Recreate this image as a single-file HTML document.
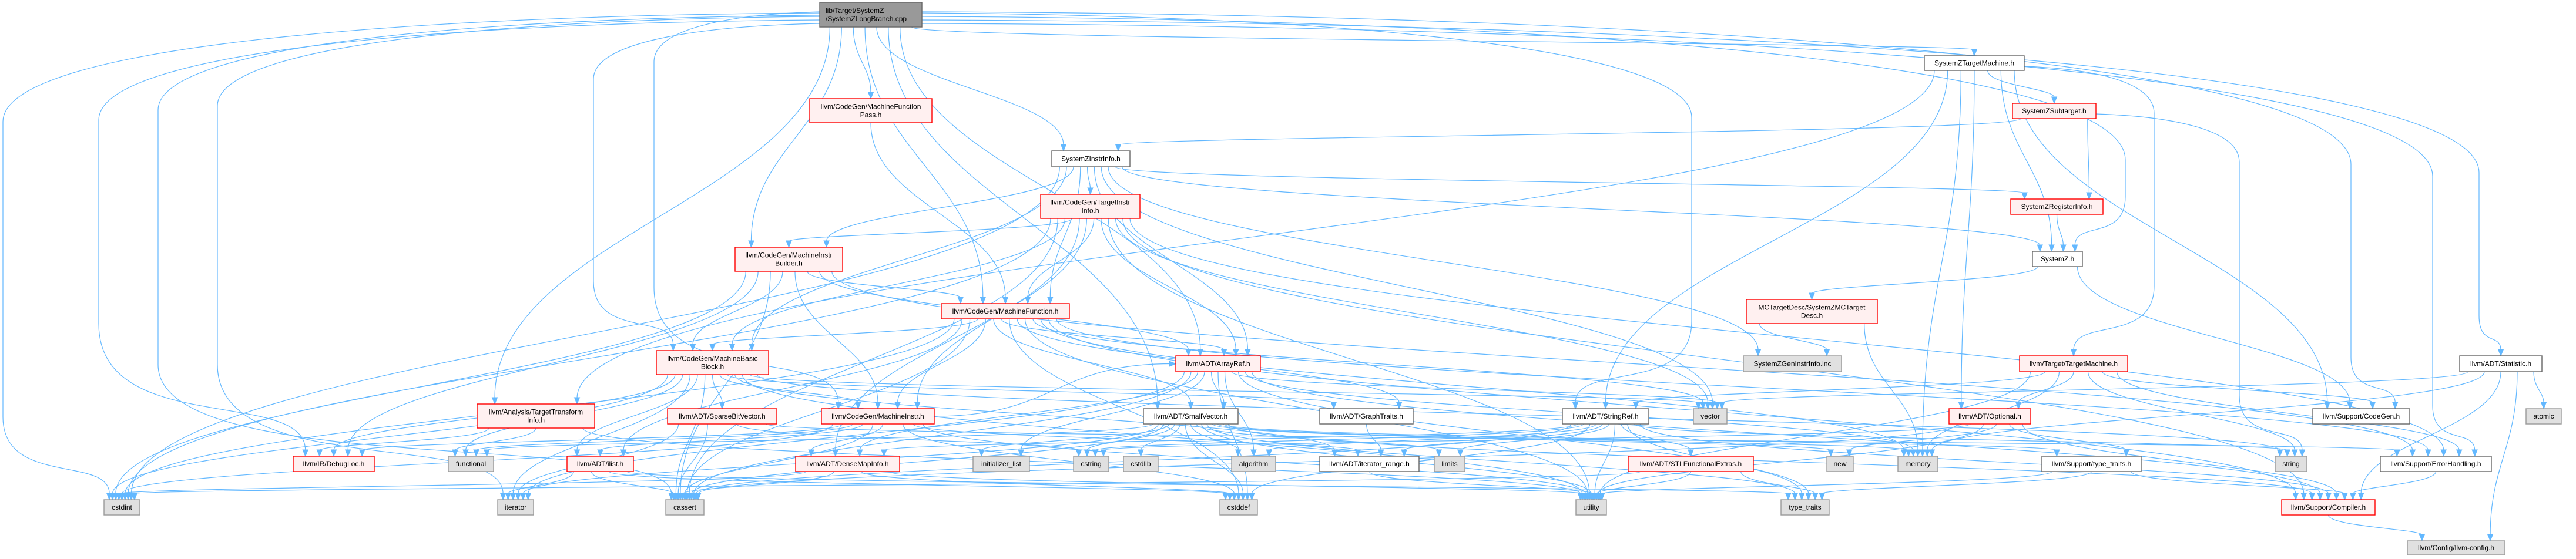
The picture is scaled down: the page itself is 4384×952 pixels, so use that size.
<!DOCTYPE html>
<html><head><meta charset="utf-8"><title>SystemZLongBranch.cpp include graph</title>
<style>
html,body{margin:0;padding:0;background:#fff;}
svg{display:block;}
text{font-family:"Liberation Sans",Arial,sans-serif;font-size:12px;fill:#000;}
</style></head>
<body>
<svg id="g" width="4384" height="952" viewBox="0 0 4384 952" xmlns="http://www.w3.org/2000/svg">
<g id="edges"></g>
<g id="nodes"></g>
</svg>
<script>
const nodeIds = ["main","mfpass","sztm","subtarget","instrinfo","reginfo","tii","mib","systemzh","mf","mctd","mbb","arrayref","geninstr","tm","statistic","tti","sbv","mi","smallvec","graphtraits","stringref","vector","optional","codegen","atomic","debugloc","functional","ilist","densemap","initlist","cstring","cstdlib","algorithm","iterrange","limits","stlfe","newh","memory","typetraitsh","string","errh","cstdint","iterator","cassert","cstddef","utility","typetraits","compiler","llvmconfig"];
const nodeLabels = [["lib/Target/SystemZ","/SystemZLongBranch.cpp"],["llvm/CodeGen/MachineFunction","Pass.h"],["SystemZTargetMachine.h"],["SystemZSubtarget.h"],["SystemZInstrInfo.h"],["SystemZRegisterInfo.h"],["llvm/CodeGen/TargetInstr","Info.h"],["llvm/CodeGen/MachineInstr","Builder.h"],["SystemZ.h"],["llvm/CodeGen/MachineFunction.h"],["MCTargetDesc/SystemZMCTarget","Desc.h"],["llvm/CodeGen/MachineBasic","Block.h"],["llvm/ADT/ArrayRef.h"],["SystemZGenInstrInfo.inc"],["llvm/Target/TargetMachine.h"],["llvm/ADT/Statistic.h"],["llvm/Analysis/TargetTransform","Info.h"],["llvm/ADT/SparseBitVector.h"],["llvm/CodeGen/MachineInstr.h"],["llvm/ADT/SmallVector.h"],["llvm/ADT/GraphTraits.h"],["llvm/ADT/StringRef.h"],["vector"],["llvm/ADT/Optional.h"],["llvm/Support/CodeGen.h"],["atomic"],["llvm/IR/DebugLoc.h"],["functional"],["llvm/ADT/ilist.h"],["llvm/ADT/DenseMapInfo.h"],["initializer_list"],["cstring"],["cstdlib"],["algorithm"],["llvm/ADT/iterator_range.h"],["limits"],["llvm/ADT/STLFunctionalExtras.h"],["new"],["memory"],["llvm/Support/type_traits.h"],["string"],["llvm/Support/ErrorHandling.h"],["cstdint"],["iterator"],["cassert"],["cstddef"],["utility"],["type_traits"],["llvm/Support/Compiler.h"],["llvm/Config/llvm-config.h"]];
const nodeBoxes = [[1395,4,1569,46],[1378,168,1586,209],[3275,95,3445,120],[3425,176,3567,202],[1790,257,1923,284],[3422,339,3579,365],[1771,331,1940,372],[1251,421,1434,462],[3459,428,3544,454],[1602,517,1820,543],[2972,510,3195,551],[1117,597,1308,638],[2001,606,2145,633],[2967,606,3134,633],[3437,606,3621,633],[4186,606,4326,633],[812,688,1012,729],[1136,696,1322,722],[1398,696,1590,722],[1946,696,2107,722],[2246,696,2405,722],[2659,696,2806,722],[2882,696,2939,722],[3317,696,3456,722],[3936,696,4101,722],[4299,696,4359,722],[499,777,637,803],[763,777,840,803],[965,777,1078,803],[1354,777,1531,803],[1656,777,1752,803],[1827,777,1887,803],[1912,777,1971,803],[2096,777,2171,803],[2246,777,2415,803],[2441,777,2493,803],[2771,777,2984,803],[3109,777,3154,803],[3230,777,3298,803],[3475,777,3644,803],[3872,777,3926,803],[4051,777,4240,803],[177,851,238,877],[847,851,908,877],[1133,851,1198,877],[2076,851,2140,877],[2682,851,2734,877],[3031,851,3113,877],[3883,851,4042,877],[4097,921,4263,945]];
const nodeKinds = ["main","red","white","red","white","red","red","red","white","red","red","red","red","gray","red","white","red","red","red","white","white","white","gray","red","white","gray","red","gray","red","red","gray","gray","gray","gray","white","gray","red","gray","gray","white","gray","white","gray","gray","gray","gray","gray","gray","red","gray"];
const edgeList = [
["main","cstdint"],["main","iterator"],["main","debugloc"],["main","mbb"],["main","mf"],["main","mfpass"],["main","mib"],["main","mi"],["main","stringref"],["main","instrinfo"],["main","sztm"],["main","systemzh"],["main","statistic"],["main","errh"],["main","cassert"],["main","tti"],["main","arrayref"],["main","smallvec"],["main","codegen"],
["mfpass","mf"],
["sztm","subtarget"],["sztm","tti"],["sztm","stringref"],["sztm","optional"],["sztm","tm"],["sztm","memory"],["sztm","codegen"],["sztm","systemzh"],
["subtarget","instrinfo"],["subtarget","reginfo"],["subtarget","string"],
["reginfo","systemzh"],
["systemzh","mctd"],["systemzh","codegen"],
["mctd","geninstr"],["mctd","memory"],
["instrinfo","tii"],["instrinfo","mf"],["instrinfo","mbb"],["instrinfo","mib"],["instrinfo","arrayref"],["instrinfo","cstdint"],["instrinfo","geninstr"],["instrinfo","reginfo"],["instrinfo","systemzh"],["instrinfo","vector"],
["tii","mib"],["tii","mf"],["tii","mbb"],["tii","mi"],["tii","arrayref"],["tii","densemap"],["tii","cassert"],["tii","cstdint"],["tii","utility"],["tii","vector"],["tii","errh"],["tii","compiler"],
["mib","mf"],["mib","mbb"],["mib","mi"],["mib","arrayref"],["mib","cstdint"],["mib","debugloc"],["mib","errh"],["mib","cassert"],
["mf","mbb"],["mf","mi"],["mf","arrayref"],["mf","smallvec"],["mf","graphtraits"],["mf","ilist"],["mf","compiler"],["mf","cassert"],["mf","cstdint"],["mf","memory"],["mf","utility"],["mf","vector"],["mf","errh"],["mf","cstddef"],
["mbb","sbv"],["mbb","mi"],["mbb","ilist"],["mbb","debugloc"],["mbb","iterrange"],["mbb","graphtraits"],["mbb","cassert"],["mbb","cstdint"],["mbb","functional"],["mbb","iterator"],["mbb","string"],["mbb","vector"],["mbb","utility"],
["arrayref","smallvec"],["arrayref","algorithm"],["arrayref","cassert"],["arrayref","cstddef"],["arrayref","initlist"],["arrayref","iterator"],["arrayref","memory"],["arrayref","typetraits"],["arrayref","vector"],["arrayref","compiler"],["arrayref","densemap"],
["smallvec","compiler"],["smallvec","typetraitsh"],["smallvec","algorithm"],["smallvec","cassert"],["smallvec","cstddef"],["smallvec","cstdlib"],["smallvec","cstring"],["smallvec","functional"],["smallvec","initlist"],["smallvec","iterator"],["smallvec","limits"],["smallvec","memory"],["smallvec","newh"],["smallvec","typetraits"],["smallvec","utility"],
["sbv","cassert"],["sbv","iterator"],["sbv","errh"],["sbv","cstring"],
["mi","densemap"],["mi","ilist"],["mi","iterrange"],["mi","arrayref"],["mi","cassert"],["mi","cstdint"],["mi","utility"],["mi","debugloc"],["mi","functional"],["mi","cstddef"],
["densemap","cassert"],["densemap","cstddef"],["densemap","cstdint"],["densemap","utility"],
["ilist","iterator"],["ilist","cassert"],["ilist","cstddef"],["ilist","typetraits"],
["graphtraits","iterrange"],["iterrange","utility"],
["stringref","stlfe"],["stringref","iterrange"],["stringref","algorithm"],["stringref","cassert"],["stringref","cstddef"],["stringref","cstring"],["stringref","limits"],["stringref","string"],["stringref","typetraits"],["stringref","utility"],["stringref","compiler"],["stringref","densemap"],
["stlfe","typetraits"],["stlfe","utility"],["stlfe","cstdint"],
["tm","optional"],["tm","codegen"],["tm","stringref"],["tm","errh"],["tm","string"],["tm","memory"],["tm","utility"],
["optional","typetraitsh"],["optional","compiler"],["optional","cassert"],["optional","newh"],["optional","utility"],["optional","cstring"],
["typetraitsh","compiler"],["typetraitsh","typetraits"],["typetraitsh","utility"],
["errh","compiler"],["compiler","llvmconfig"],
["statistic","atomic"],["statistic","compiler"],["statistic","llvmconfig"],["statistic","memory"],["statistic","vector"],
["tti","functional"],["tti","debugloc"],["tti","utility"]
];
// long routed edges: vertical corridor x for edges that leave from a side
const routeKeys = ["main>cstdint","main>debugloc","main>cassert","main>iterator","main>mbb","main>mi","main>stringref","main>systemzh","main>codegen","main>errh","main>statistic","sztm>tm","subtarget>string"];
const routeXs = [5,168,269,370,1010,1113,2879,3617,4001,4140,4219,3666,3811];

const NS="http://www.w3.org/2000/svg";
const eg=document.getElementById('edges');
const ng=document.getElementById('nodes');
const idx={};nodeIds.forEach((id,i)=>idx[id]=i);
const routeOf={};routeKeys.forEach((k,i)=>routeOf[k]=routeXs[i]);
const styles={main:["#999999","#666666"],red:["#fff0f0","#ff0000"],white:["#ffffff","#666666"],gray:["#e0e0e0","#999999"]};

const outs={},ins={};
edgeList.forEach(e=>{const k=e.join('>');if(routeOf[k]===undefined)(outs[e[0]]=outs[e[0]]||[]).push(e);(ins[e[1]]=ins[e[1]]||[]).push(e);});
function cx(id){const b=nodeBoxes[idx[id]];return (b[0]+b[2])/2;}
const startPt={},endPt={};
Object.keys(outs).forEach(s=>{
  const b=nodeBoxes[idx[s]];const list=outs[s].slice().sort((a,c)=>cx(a[1])-cx(c[1]));
  const n=list.length;const w=(b[2]-b[0])*0.8;
  list.forEach((e,k)=>{startPt[e.join('>')]=[b[0]+(b[2]-b[0])*0.1+(n==1?w/2:w*k/(n-1)),b[3]];});
});
Object.keys(ins).forEach(t=>{
  const b=nodeBoxes[idx[t]];const list=ins[t].slice().sort((a,c)=>{
    const ka=routeOf[a.join('>')],kc=routeOf[c.join('>')];
    return (ka!==undefined?ka:cx(a[0]))-(kc!==undefined?kc:cx(c[0]));});
  const n=list.length;const w=(b[2]-b[0])*0.7;
  list.forEach((e,k)=>{endPt[e.join('>')]=[b[0]+(b[2]-b[0])*0.15+(n==1?w/2:w*k/(n-1)),b[1]];});
});
const sideCount={};

edgeList.forEach(e=>{
  const key=e.join('>');
  const sb=nodeBoxes[idx[e[0]]],tb=nodeBoxes[idx[e[1]]];
  let [x2,y2]=endPt[key];
  let d,ax=0,ay=-1;
  const rx=routeOf[key];
  if(rx!==undefined){
    const left=rx<sb[0];
    const sk=e[0]+(left?'L':'R');sideCount[sk]=(sideCount[sk]||0)+1;
    const x1=left?sb[0]:sb[2];
    const y1=sb[1]+12+((sideCount[sk]*6)%(sb[3]-sb[1]-16));
    const dist=Math.abs(x1-rx);
    const yv=y1+Math.min(260,60+dist*0.09);
    const yEnd=y2-10;
    const yLow=Math.max(yv+10,yEnd-Math.min(220,40+Math.abs(x2-rx)*0.5));
    d=`M${x1},${y1} C${x1+(rx-x1)*0.5},${y1+4} ${rx},${y1+(yv-y1)*0.3} ${rx},${yv} L${rx},${yLow} C${rx},${yEnd-(yEnd-yLow)*0.1} ${x2},${yLow+(yEnd-yLow)*0.5} ${x2},${yEnd}`;
  } else if(tb[1]<=sb[3]+2){
    const left=tb[0]<sb[0];
    const x1=left?sb[0]:sb[2],y1=(sb[1]+sb[3])/2;
    x2=left?tb[2]:tb[0];y2=(tb[1]+tb[3])/2;
    const mx=(x1+x2)/2;
    d=`M${x1},${y1} C${mx},${y1} ${mx},${y2} ${x2-(left?-10:10)},${y2}`;
    ax=left?1:-1;ay=0;
  } else {
    const [x1,y1]=startPt[key];
    const dy=y2-y1;
    d=`M${x1},${y1} C${x1},${y1+dy*0.45} ${x2},${y2-dy*0.45} ${x2},${y2-10}`;
  }
  const p=document.createElementNS(NS,'path');
  
  
  p.setAttribute('d',d);p.setAttribute('fill','none');p.setAttribute('stroke','#63b8ff');p.setAttribute('stroke-width','1.2');
  eg.appendChild(p);
  const a=document.createElementNS(NS,'polygon');
  
  
  let pts;
  if(ay!==0){pts=`${x2},${y2} ${x2-4.5},${y2-11} ${x2+4.5},${y2-11}`;}
  else{pts=`${x2},${y2} ${x2+ax*11},${y2-4.5} ${x2+ax*11},${y2+4.5}`;}
  a.setAttribute('points',pts);a.setAttribute('fill','#63b8ff');a.setAttribute('stroke','#63b8ff');
  eg.appendChild(a);
});

nodeIds.forEach((id,i)=>{
  const b=nodeBoxes[i],st=styles[nodeKinds[i]];
  const g=document.createElementNS(NS,'g');
  
  
  const r=document.createElementNS(NS,'rect');
  
  
  r.setAttribute('x',b[0]);r.setAttribute('y',b[1]);r.setAttribute('width',b[2]-b[0]);r.setAttribute('height',b[3]-b[1]);
  r.setAttribute('fill',st[0]);r.setAttribute('stroke',st[1]);r.setAttribute('stroke-width','1.4');
  g.appendChild(r);
  const lines=nodeLabels[i];
  const ccx=(b[0]+b[2])/2,ccy=(b[1]+b[3])/2;
  lines.forEach((ln,k)=>{
    const t=document.createElementNS(NS,'text');
    
    
    t.setAttribute('x',nodeKinds[i]==='main'?b[0]+10:ccx);
    t.setAttribute('text-anchor',nodeKinds[i]==='main'?'start':'middle');
    t.setAttribute('y',ccy+4+(k-(lines.length-1)/2)*14);
    t.textContent=ln;
    g.appendChild(t);
  });
  ng.appendChild(g);
});
</script>
</body></html>
